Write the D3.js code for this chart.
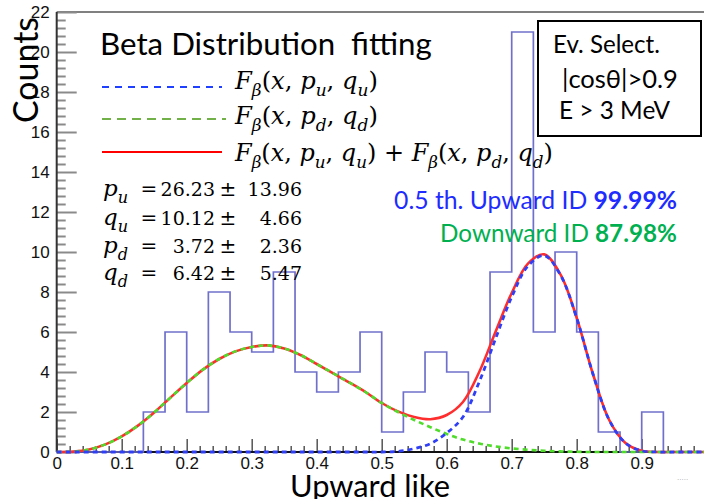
<!DOCTYPE html>
<html>
<head>
<meta charset="utf-8">
<script src="https://cdn.jsdelivr.net/npm/d3@7"></script>
<style>
  html, body { margin: 0; padding: 0; background: #fff; }
  text { white-space: pre; }
</style>
</head>
<body>
<div id="chart"></div>
<script>
// histogram: 30 bins over [0, 1]
const binCounts = [0, 0, 0, 0, 2, 6, 2, 8, 6, 5, 9, 4, 3, 4, 6, 1, 3, 5, 4, 2, 9, 21, 6, 10, 6, 1, 0, 2, 0, 0];

// fitted curves
const fitX = [0, 0.025, 0.05, 0.075, 0.1, 0.125, 0.15, 0.175, 0.2, 0.225, 0.25, 0.275, 0.3, 0.325, 0.35, 0.375, 0.4,
  0.425, 0.45, 0.475, 0.5, 0.525, 0.55, 0.575, 0.6, 0.625, 0.65, 0.675, 0.7, 0.725, 0.75, 0.775, 0.8, 0.825, 0.85,
  0.875, 0.9, 0.925, 0.95, 0.975, 1];
const downFit = [0, 0.02, 0.13, 0.38, 0.78, 1.32, 1.98, 2.72, 3.45, 4.12, 4.65, 5.03, 5.25, 5.33, 5.18, 4.85, 4.4,
  3.94, 3.48, 3.0, 2.45, 2.0, 1.6, 1.24, 0.9, 0.62, 0.42, 0.28, 0.18, 0.11, 0.06, 0.03, 0.01, 0, 0,
  0, 0, 0, 0, 0, 0];
const upFit = [0, 0, 0, 0, 0, 0, 0, 0, 0, 0, 0, 0, 0, 0, 0, 0, 0,
  0, 0, 0, 0, 0.03, 0.17, 0.42, 0.95, 1.75, 3.5, 5.65, 7.75, 9.3, 9.82, 8.85, 6.7, 3.9, 1.6,
  0.45, 0.06, 0, 0, 0, 0];
const totalFit = [0, 0.02, 0.13, 0.38, 0.78, 1.32, 1.98, 2.72, 3.45, 4.12, 4.65, 5.03, 5.25, 5.33, 5.18, 4.85, 4.4,
  3.94, 3.48, 3.0, 2.45, 2.03, 1.75, 1.64, 1.85, 2.5, 4.0, 6.0, 7.95, 9.42, 9.88, 8.88, 6.71, 3.9, 1.6,
  0.45, 0.06, 0, 0, 0, 0];

const xTickValues = [0, 0.1, 0.2, 0.3, 0.4, 0.5, 0.6, 0.7, 0.8, 0.9];
const xTickLabels = ["0", "0.1", "0.2", "0.3", "0.4", "0.5", "0.6", "0.7", "0.8", "0.9"];
const yTickValues = [0, 2, 4, 6, 8, 10, 12, 14, 16, 18, 20, 22];
const yTickLabels = ["0", "2", "4", "6", "8", "10", "12", "14", "16", "18", "20", "22"];

const params = [
  {name: "p", sub: "u", value: "26.23", err: "13.96"},
  {name: "q", sub: "u", value: "10.12", err: "4.66"},
  {name: "p", sub: "d", value: "3.72", err: "2.36"},
  {name: "q", sub: "d", value: "6.42", err: "5.47"},
];

const W = 704, H = 499;
const sans = "Lato, 'Open Sans', sans-serif";
const serif = "'DejaVu Serif', serif";
const axisFont = "'Liberation Sans', Arial, sans-serif";

const svg = d3.select("#chart").append("svg")
  .attr("width", W)
  .attr("height", H)
  .style("display", "block");

svg.append("rect").attr("width", W).attr("height", H).attr("fill", "#fff");

const x = d3.scaleLinear().domain([0, 1]).range([56.7, 706.7]);
const y = d3.scaleLinear().domain([0, 22]).range([452, 12]);

const fitText = (t, width) => {
  const len = t.node().getComputedTextLength();
  const fs = parseFloat(t.attr("font-size"));
  t.attr("font-size", fs * width / len);
  return t;
};

// frame top line
svg.append("line")
  .attr("x1", x(0)).attr("x2", W)
  .attr("y1", y(22)).attr("y2", y(22))
  .attr("stroke", "#808080").attr("stroke-width", 2);

// y axis minor + major ticks
const yMinor = d3.range(0, 22.001, 0.4).filter(v => Math.abs(v / 2 - Math.round(v / 2)) > 1e-6);
svg.append("g")
  .attr("transform", `translate(${x(0)},0)`)
  .call(d3.axisLeft(y).tickValues(yMinor).tickSize(-9).tickFormat(""))
  .call(g => g.select(".domain").remove())
  .call(g => g.selectAll(".tick line").attr("stroke", "#8a8a8a").attr("stroke-width", 2));

svg.append("g")
  .attr("transform", `translate(${x(0)},0)`)
  .call(d3.axisLeft(y).tickValues(yTickValues).tickSize(-20).tickPadding(7)
    .tickFormat((d, i) => yTickLabels[i]))
  .call(g => g.select(".domain").remove())
  .call(g => g.selectAll(".tick line").attr("stroke", "#8a8a8a").attr("stroke-width", 2))
  .call(g => g.selectAll(".tick text")
    .attr("font-family", axisFont).attr("font-size", 17).attr("fill", "#111"));

// x axis minor + major ticks
const xMinor = d3.range(0, 1.0001, 0.02).filter(v => Math.abs(v * 10 - Math.round(v * 10)) > 1e-6);
svg.append("g")
  .attr("transform", `translate(0,${y(0)})`)
  .call(d3.axisBottom(x).tickValues(xMinor).tickSize(-6).tickFormat(""))
  .call(g => g.select(".domain").remove())
  .call(g => g.selectAll(".tick line").attr("stroke", "#555").attr("stroke-width", 1.5));

svg.append("g")
  .attr("transform", `translate(0,${y(0)})`)
  .call(d3.axisBottom(x).tickValues(xTickValues).tickSize(-13).tickPadding(5)
    .tickFormat((d, i) => xTickLabels[i]))
  .call(g => g.select(".domain").remove())
  .call(g => g.selectAll(".tick line").attr("stroke", "#555").attr("stroke-width", 1.5))
  .call(g => g.selectAll(".tick text")
    .attr("font-family", axisFont).attr("font-size", 17).attr("fill", "#111"));

// axis lines
svg.append("line")
  .attr("x1", x(0)).attr("x2", x(0)).attr("y1", y(22)).attr("y2", y(0))
  .attr("stroke", "#333").attr("stroke-width", 2);
svg.append("line")
  .attr("x1", x(0)).attr("x2", W).attr("y1", y(0)).attr("y2", y(0))
  .attr("stroke", "#111").attr("stroke-width", 2);

// histogram outline
const histPts = binCounts.map((c, i) => [i / binCounts.length, c]);
histPts.push([1, binCounts[binCounts.length - 1]]);
svg.append("path")
  .datum(histPts)
  .attr("fill", "none")
  .attr("stroke", "#7070cc")
  .attr("stroke-width", 1.7)
  .attr("d", d3.line().x(d => x(d[0])).y(d => y(d[1])).curve(d3.curveStepAfter));

// fitted curves
const curveLine = d3.line().x(d => x(d[0])).y(d => y(d[1])).curve(d3.curveCatmullRom.alpha(0.5));
const series = [
  {values: totalFit, color: "#ff2e2e", width: 2.6, dash: null},
  {values: downFit, color: "#4fdc2a", width: 2.6, dash: "5 4"},
  {values: upFit, color: "#2f3ff5", width: 2.8, dash: "5 4"},
];
series.forEach(s => {
  svg.append("path")
    .datum(fitX.map((v, i) => [v, s.values[i]]))
    .attr("fill", "none")
    .attr("stroke", s.color)
    .attr("stroke-width", s.width)
    .attr("stroke-dasharray", s.dash)
    .attr("d", curveLine);
});

// axis titles
fitText(svg.append("text")
  .attr("transform", "translate(38,70) rotate(-90)")
  .attr("text-anchor", "middle")
  .attr("font-family", sans).attr("font-size", 34).attr("fill", "#000")
  .text("Counts"), 106);

fitText(svg.append("text")
  .attr("x", 370).attr("y", 497)
  .attr("text-anchor", "middle")
  .attr("font-family", sans).attr("font-size", 32).attr("fill", "#000")
  .text("Upward like"), 160);

// title
fitText(svg.append("text")
  .attr("x", 100).attr("y", 55)
  .attr("font-family", sans).attr("font-size", 30).attr("fill", "#000")
  .text("Beta Distribution  fitting"), 332);

// math helper: tokens [text, italic, subscript]
const mathText = (px, py, tokens, size, width) => {
  const t = svg.append("text")
    .attr("x", px).attr("y", py)
    .attr("font-family", serif).attr("font-size", size).attr("fill", "#000");
  let inSub = false;
  tokens.forEach(([s, it, sub]) => {
    const ts = t.append("tspan").text(s).attr("font-style", it ? "italic" : "normal");
    if (sub) {
      ts.attr("font-size", "70%");
      if (!inSub) ts.attr("dy", "0.43em");
    } else if (inSub) {
      ts.attr("dy", "-0.3em");
    }
    inSub = !!sub;
  });
  if (width) fitText(t, width);
  return t;
};

const fTokens = (a, b) => [["F", 1], ["β", 1, 1], ["(", 0], ["x", 1], [", ", 0], ["p", 1], [a, 1, 1],
  [", ", 0], ["q", 1], [b, 1, 1], [")", 0]];

// legend
const legendRows = [
  {y: 87, x2: 222, color: "#2040ff", dash: "7 6", tokens: fTokens("u", "u"), ty: 89, w: 143},
  {y: 119, x2: 226, color: "#72b04a", dash: "9 6", tokens: fTokens("d", "d"), ty: 124, w: 143},
  {y: 152, x2: 222, color: "#ff0000", dash: null,
    tokens: fTokens("u", "u").concat([[" + ", 0]], fTokens("d", "d")), ty: 161, w: 318},
];
legendRows.forEach(r => {
  svg.append("line")
    .attr("x1", 102).attr("x2", r.x2).attr("y1", r.y).attr("y2", r.y)
    .attr("stroke", r.color).attr("stroke-width", 2)
    .attr("stroke-dasharray", r.dash);
  mathText(235, r.ty, r.tokens, 22, r.w);
});

// fit parameters
const paramY = [196, 225, 253, 280];
params.forEach((p, i) => {
  const py = paramY[i];
  mathText(103, py, [[p.name, 1], [p.sub, 1, 1]], 23);
  svg.append("text").attr("x", 149).attr("y", py).attr("text-anchor", "middle")
    .attr("font-family", serif).attr("font-size", 20).text("=");
  svg.append("text").attr("x", 215).attr("y", py).attr("text-anchor", "end")
    .attr("font-family", serif).attr("font-size", 19).text(p.value);
  svg.append("text").attr("x", 228).attr("y", py).attr("text-anchor", "middle")
    .attr("font-family", serif).attr("font-size", 20).text("±");
  svg.append("text").attr("x", 302).attr("y", py).attr("text-anchor", "end")
    .attr("font-family", serif).attr("font-size", 19).text(p.err);
});

// selection box
svg.append("rect")
  .attr("x", 538).attr("y", 21).attr("width", 163).attr("height", 115)
  .attr("fill", "#fff").attr("stroke", "#000").attr("stroke-width", 2);
[
  {text: "Ev. Select.", x: 553, y: 53, w: 107},
  {text: "|cosθ|>0.9", x: 562, y: 88, w: 116},
  {text: "E > 3 MeV", x: 559, y: 119, w: 111},
].forEach(r => {
  fitText(svg.append("text")
    .attr("x", r.x).attr("y", r.y)
    .attr("font-family", sans).attr("font-size", 24).attr("fill", "#000")
    .text(r.text), r.w);
});

// efficiencies
const idText = (py, color, plain, bold, w) => {
  const t = svg.append("text")
    .attr("x", 677).attr("y", py).attr("text-anchor", "end")
    .attr("font-family", sans).attr("font-size", 22).attr("fill", color);
  t.append("tspan").text(plain);
  t.append("tspan").attr("font-weight", "bold").text(bold);
  fitText(t, w);
};
idText(209, "#1e2cff", "0.5 th. Upward ID ", "99.99%", 283);
idText(242, "#00b050", "Downward ID ", "87.98%", 237);

svg.append("text")
  .attr("x", 677).attr("y", 480)
  .attr("font-family", axisFont).attr("font-size", 8).attr("fill", "#aaa")
  .text(".....");
</script>
</body>
</html>
